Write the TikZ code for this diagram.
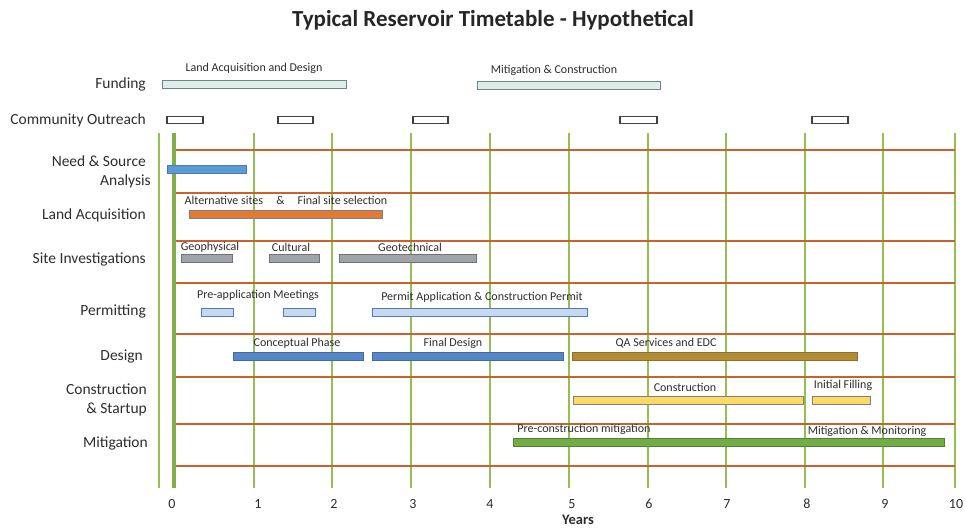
\documentclass[tikz,border=0pt]{standalone}
\usepackage{fontspec}
\setmainfont{Carlito}

\definecolor{gridgreen}{RGB}{146,192,82}
\definecolor{gridorange}{RGB}{200,100,42}
\definecolor{labelgray}{RGB}{45,45,45}
\definecolor{fundfill}{RGB}{222,238,231}
\definecolor{fundline}{RGB}{105,135,145}
\definecolor{needblue}{RGB}{91,155,213}
\definecolor{landorange}{RGB}{224,122,52}
\definecolor{sitegray}{RGB}{160,163,170}
\definecolor{permitfill}{RGB}{197,217,241}
\definecolor{permitline}{RGB}{84,122,180}
\definecolor{designblue}{RGB}{84,134,200}
\definecolor{qagold}{RGB}{178,140,50}
\definecolor{buildyellow}{RGB}{255,217,102}
\definecolor{mitgreen}{RGB}{112,173,71}

\newcommand{\rowfont}{\fontsize{15.5}{19}\selectfont}
\newcommand{\tagfont}{\fontsize{12}{14}\selectfont}
% bar: style, x from, x to, y middle
\newcommand{\taskbar}[4]{\draw[#1] (#2,#4-4) rectangle (#3,#4+4);}

\tikzset{
  rowlabel/.style={anchor=east, align=right, font=\rowfont, text=labelgray, inner sep=0pt},
  tag/.style={font=\tagfont, text=labelgray, inner sep=0pt},
  fundbar/.style={fill=fundfill, draw=fundline, line width=0.9pt},
  outbox/.style={fill=white, draw=black!75, line width=1.2pt},
  needbar/.style={fill=needblue, draw=needblue!80!black, line width=0.8pt},
  landbar/.style={fill=landorange, draw=gray, line width=0.8pt},
  sitebar/.style={fill=sitegray, draw=black!55, line width=0.8pt},
  permitbar/.style={fill=permitfill, draw=permitline, line width=0.8pt},
  designbar/.style={fill=designblue, draw=designblue!80!black, line width=0.8pt},
  qabar/.style={fill=qagold, draw=qagold!80!black, line width=0.8pt},
  buildbar/.style={fill=buildyellow, draw=gray, line width=0.8pt},
  mitbar/.style={fill=mitgreen, draw=mitgreen!75!black, line width=0.8pt},
}

\begin{document}
\begin{tikzpicture}[x=1pt, y=-1pt]
    \useasboundingbox (0,0) rectangle (966,528);

    \node[font=\fontsize{23}{26}\selectfont\bfseries, text=black!85] (title) at (493,20) {Typical Reservoir Timetable - Hypothetical};

    % grid
    \draw[gridgreen, line width=1.8pt] (159,133) -- (159,488);
    \foreach \x in {254,332,411,490,569,648,726,805,883,955}
        \draw[gridgreen, line width=1.8pt] (\x,133) -- (\x,488);
    \foreach \y in {150,193,241,283,334,377,424,466}
        \draw[gridorange, line width=2.2pt] (174,\y) -- (955,\y);
    \draw[gridgreen!90!black, line width=3.2pt] (174,133) -- (174,488);

    % row labels
    \node[rowlabel] (funding) at (146,84) {Funding};
    \node[rowlabel] (outreach) at (146,120) {Community Outreach};
    \node[rowlabel] (need) at (151,172) {Need \& Source\hspace*{5pt}\\Analysis};
    \node[rowlabel] (land) at (146,215) {Land Acquisition};
    \node[rowlabel] (site) at (146,259) {Site Investigations};
    \node[rowlabel] (permit) at (146,311) {Permitting};
    \node[rowlabel] (design) at (143,356) {Design};
    \node[rowlabel] (build) at (147,400) {Construction\\\& Startup};
    \node[rowlabel] (mitig) at (148,443) {Mitigation};

    % funding and outreach
    \taskbar{fundbar}{162}{346}{84.5}
    \taskbar{fundbar}{477}{660}{85}
    \node[tag] (fundA) at (254,68) {Land Acquisition and Design};
    \node[tag] (fundB) at (554,70) {Mitigation \& Construction};
    \foreach \a/\b in {167/203,278/313,413/448,620/657,812/848}
        \draw[outbox] (\a,116.5) rectangle (\b,123.5);

    % tasks
    \taskbar{needbar}{167}{246}{169}
    \taskbar{landbar}{189}{382}{214.5}
    \node[tag] (landtag) at (286,200) {Alternative sites\hspace{1.1em}\&\hspace{1.1em}Final site selection};

    \taskbar{sitebar}{181}{232}{258.5}
    \taskbar{sitebar}{269}{319}{258.5}
    \taskbar{sitebar}{339}{476}{258.5}
    \node[tag] (geophys) at (210,247) {Geophysical};
    \node[tag] (cultural) at (291,247) {Cultural};
    \node[tag] (geotech) at (410,247) {Geotechnical};

    \taskbar{permitbar}{201}{233}{312}
    \taskbar{permitbar}{283}{315}{312}
    \taskbar{permitbar}{372}{587}{312}
    \node[tag] (preapp) at (258,295) {Pre-application Meetings};
    \node[tag] (permitapp) at (482,297) {Permit Application \& Construction Permit};

    \taskbar{designbar}{233}{363}{356}
    \taskbar{designbar}{372}{563}{356}
    \taskbar{qabar}{572}{857}{356}
    \node[tag] (concept) at (297,343) {Conceptual Phase};
    \node[tag] (final) at (453,343) {Final Design};
    \node[tag] (qa) at (666,343) {QA Services and EDC};

    \taskbar{buildbar}{573}{803}{400}
    \taskbar{buildbar}{812}{870}{400}
    \node[tag] (constr) at (685,387) {Construction};
    \node[tag] (filling) at (843,385) {Initial Filling};

    \taskbar{mitbar}{513}{944}{442.5}
    \node[tag] (premit) at (584,429) {Pre-construction mitigation};
    \node[tag] (monitor) at (867,431) {Mitigation \& Monitoring};

    % axis
    \foreach \x/\n in {172/0,258/1,334/2,413/3,490/4,572/5,649/6,727/7,807/8,885/9,956/10}
        \node[font=\fontsize{14}{16}\selectfont, text=labelgray] (tick\n) at (\x,504) {\n};
    \node[font=\fontsize{14.5}{16}\selectfont\bfseries, text=labelgray] (years) at (578,520) {Years};
\end{tikzpicture}
\end{document}
